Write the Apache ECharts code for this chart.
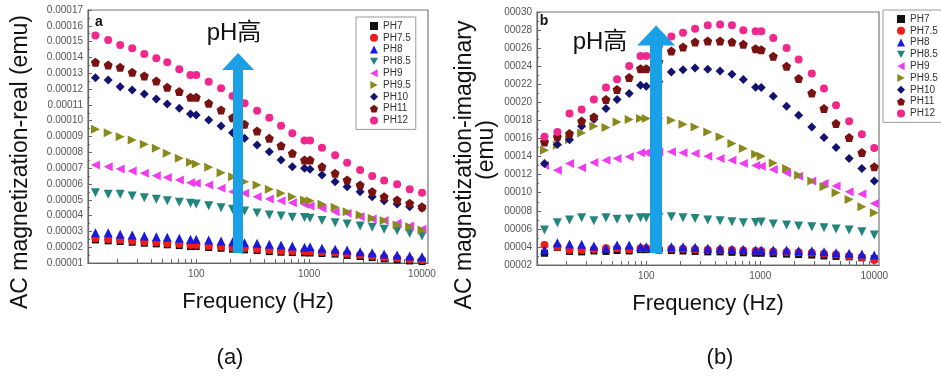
<!DOCTYPE html>
<html>
<head>
<meta charset="utf-8">
<script src="https://cdn.jsdelivr.net/npm/echarts@6/dist/echarts.min.js"></script>
<style>
html,body{margin:0;padding:0;background:#fff;}
#c{width:941px;height:377px;}
</style>
</head>
<body>
<div id="c"></div>
<script>
// Frequencies (Hz)
var freq = [12.8,16.6,21.2,27.1,34.7,44.3,55.4,70.8,89,100,129,166,210,268,346,444,564,710,910,1020,1300,1700,2170,2830,3620,4620,6020,7780,10000];
var names = ['PH7','PH7.5','PH8','PH8.5','PH9','PH9.5','PH10','PH11','PH12'];
var xLabelValues = [100,1000,10000];
var xTickValues = [20,30,40,50,60,70,80,90,100,200,300,400,500,600,700,800,900,1000,2000,3000,4000,5000,6000,7000,8000,9000,10000];

// (a) AC magnetization-real, units of 1e-5 emu
var realPH7   = [2.46,2.4,2.36,2.31,2.25,2.21,2.15,2.1,2.04,2.04,1.98,1.93,1.87,1.83,1.79,1.72,1.68,1.66,1.64,1.63,1.6,1.56,1.48,1.41,1.34,1.26,1.2,1.13,1.09];
var realPH75  = [2.56,2.5,2.45,2.41,2.35,2.31,2.25,2.2,2.14,2.14,2.08,2.03,1.97,1.93,1.89,1.82,1.78,1.76,1.74,1.73,1.7,1.66,1.58,1.51,1.44,1.36,1.3,1.23,1.19];
var realPH8   = [2.92,2.92,2.82,2.77,2.71,2.66,2.63,2.56,2.5,2.5,2.45,2.39,2.35,2.28,2.25,2.18,2.14,2.08,1.99,2.03,1.93,1.87,1.82,1.71,1.65,1.57,1.51,1.44,1.4];
var realPH85  = [5.45,5.35,5.35,5.24,5.13,5.03,4.94,4.84,4.78,4.73,4.62,4.5,4.4,4.29,4.16,4.04,3.97,3.89,3.87,3.83,3.68,3.55,3.47,3.34,3.26,3.13,3.04,2.88,2.71];
var realPH9   = [7.2,7.09,6.95,6.82,6.67,6.52,6.4,6.25,6.08,6.04,5.93,5.72,5.51,5.41,5.19,5.05,4.94,4.81,4.71,4.61,4.46,4.24,4.14,3.93,3.78,3.68,3.51,3.34,3.13];
var realPH95  = [9.46,9.24,8.99,8.78,8.51,8.25,7.94,7.62,7.37,7.26,7.05,6.71,6.46,6.14,5.93,5.66,5.41,5.19,4.98,4.94,4.71,4.52,4.24,4.04,3.83,3.68,3.4,3.3,3.09];
var realPH10  = [12.72,12.57,12.15,11.94,11.69,11.37,11.06,10.78,10.42,10.36,10.04,9.67,9.24,8.89,8.46,8.04,7.51,7.09,6.99,6.93,6.57,6.14,5.83,5.51,5.19,4.94,4.73,4.56,4.46];
var realPH11  = [13.69,13.52,13.38,13.06,12.83,12.51,12.11,11.84,11.48,11.48,11.1,10.68,10.19,9.77,9.35,8.89,8.42,7.94,7.51,7.51,7.09,6.67,6.25,5.93,5.51,5.19,4.98,4.78,4.56];
var realPH12  = [15.38,15.1,14.79,14.58,14.22,13.95,13.69,13.25,12.89,12.89,12.47,12.05,11.56,11.1,10.63,10.19,9.68,9.2,8.74,8.74,8.29,7.81,7.34,6.88,6.5,6.21,5.98,5.66,5.45];

// (b) AC magnetization-imaginary, units of 1e-5 emu
var imagPH7   = [3.3,3.95,3.5,3.45,3.55,3.5,3.6,3.55,3.7,3.7,3.65,3.6,3.55,3.5,3.45,3.45,3.4,3.35,3.3,3.3,3.25,3.2,3.15,3.1,3.0,2.95,2.9,2.8,2.7];
var imagPH75  = [4.21,4.02,3.66,3.66,3.73,3.85,3.85,3.73,3.85,3.85,3.8,3.8,3.8,3.75,3.7,3.7,3.65,3.6,3.55,3.55,3.5,3.45,3.4,3.35,3.25,3.15,3.0,2.85,2.55];
var imagPH8   = [3.66,4.46,4.32,4.29,4.1,3.85,4.21,4.21,4.02,4.02,4.02,4.02,4.02,3.96,3.85,3.85,3.73,3.73,3.66,3.66,3.66,3.66,3.58,3.58,3.47,3.36,3.29,3.22,3.1];
var imagPH85  = [5.87,6.67,6.97,7.23,6.9,7.23,7.05,7.08,7.23,7.23,7.25,7.34,7.23,7.16,6.97,6.9,6.79,6.67,6.7,6.75,6.53,6.42,6.31,6.23,6.12,5.98,5.87,5.68,5.31];
var imagPH9   = [13.05,12.5,13.24,12.75,13.35,13.6,13.79,13.97,14.41,14.41,14.5,14.52,14.41,14.34,14.04,13.79,13.6,13.24,13.0,12.94,12.57,12.2,11.83,11.31,11.03,10.73,10.1,9.85,8.82];
var imagPH95  = [14.71,15.26,15.9,16.62,17.36,17.22,17.83,18.1,18.21,18.21,18.2,18.02,17.58,17.28,16.73,16.18,15.45,14.9,14.27,14.04,13.3,12.69,11.94,11.31,10.65,9.99,9.26,8.44,7.78];
var imagPH10  = [13.24,15.34,15.85,17.36,18.13,19.31,20.31,20.97,21.89,21.78,22.3,23.36,23.62,23.8,23.66,23.47,23.1,22.52,21.68,21.64,20.67,19.57,18.57,17.28,16.11,15.01,13.79,12.69,11.31];
var imagPH11  = [15.62,16.18,16.55,17.94,18.39,20.31,21.41,22.74,23.73,23.73,24.5,25.68,26.12,26.67,26.78,26.78,26.67,26.42,25.94,25.83,25.09,23.99,22.63,21.04,19.31,17.66,16.11,14.45,12.86];
var imagPH12  = [16.18,16.73,18.76,19.2,20.31,21.64,22.55,24.02,25.13,25.13,26.2,27.3,27.71,28.15,28.52,28.63,28.52,27.97,27.86,27.86,27.12,26.01,24.73,23.18,21.52,19.68,17.91,16.48,14.96];

var realSets = [realPH7,realPH75,realPH8,realPH85,realPH9,realPH95,realPH10,realPH11,realPH12];
var imagSets = [imagPH7,imagPH75,imagPH8,imagPH85,imagPH9,imagPH95,imagPH10,imagPH11,imagPH12];

var pentagon = 'path://M50,0 L97.6,34.5 L79.4,90.5 L20.6,90.5 L2.4,34.5 Z';
var styles = [
  {symbol:'rect', size:7, rot:0, color:'#111111', icon:'rect'},
  {symbol:'circle', size:8, rot:0, color:'#EE1C1C', icon:'circle'},
  {symbol:'triangle', size:9, rot:0, color:'#1A1ADC', icon:'triangle'},
  {symbol:'triangle', size:9, rot:180, color:'#23857C', icon:'path://M0,0 L10,0 L5,9 Z'},
  {symbol:'triangle', size:9, rot:90, color:'#EE3CEE', icon:'path://M9,0 L9,10 L0,5 Z'},
  {symbol:'triangle', size:9, rot:-90, color:'#8A8A1C', icon:'path://M0,0 L9,5 L0,10 Z'},
  {symbol:'diamond', size:9, rot:0, color:'#121270', icon:'diamond'},
  {symbol:pentagon, size:9, rot:0, color:'#7A1212', icon:pentagon},
  {symbol:'circle', size:8, rot:0, color:'#F0288C', icon:'circle'}
];

var FONT = '"Liberation Sans", Arial, "Noto Sans CJK SC", sans-serif';
var ARROW = '#19A0E6';

function xAxis(idx, max) {
  return {
    type:'log', logBase:10, gridIndex:idx, min:11, max:max,
    name:'Frequency (Hz)', nameLocation:'middle', nameGap:28,
    nameTextStyle:{fontSize:22, color:'#111', fontFamily:FONT},
    axisLine:{show:true, lineStyle:{color:'#666', width:1.2}},
    axisTick:{show:true, inside:true, length:4, customValues:xTickValues, lineStyle:{color:'#666'}},
    axisLabel:{customValues:xLabelValues, fontSize:10, color:'#555', margin:6, fontFamily:FONT,
      formatter:function(v){return String(Math.round(v));}},
    splitLine:{show:false}, minorTick:{show:false}, minorSplitLine:{show:false}
  };
}
function yAxis(idx, min, max, itv, fmt) {
  return {
    type:'value', gridIndex:idx, min:min, max:max, interval:itv,
    axisLine:{show:true, lineStyle:{color:'#666', width:1.2}},
    axisTick:{show:true, inside:true, length:4, lineStyle:{color:'#666'}},
    minorTick:{show:true, splitNumber:2, length:2, lineStyle:{color:'#666'}},
    axisLabel:{fontSize:10, color:'#555', margin:5, fontFamily:FONT, formatter:fmt},
    splitLine:{show:false}
  };
}

var series = [];
names.forEach(function(n, i){
  var st = styles[i];
  [realSets[i], imagSets[i]].forEach(function(vals, g){
    series.push({
      type:'scatter', name:n, xAxisIndex:g, yAxisIndex:g,
      symbol:st.symbol, symbolSize:st.size, symbolRotate:st.rot,
      itemStyle:{color:st.color, opacity:1},
      data: freq.map(function(f, k){ return [f, vals[k]]; }),
      silent:true, animation:false
    });
  });
});

function arrowSeries(g, x, y0, y1, w, head) {
  return {
    type:'line', xAxisIndex:g, yAxisIndex:g, data:[], z:10, silent:true, animation:false,
    markLine:{
      silent:true, animation:false, symbol:['none','triangle'],
      label:{show:false},
      lineStyle:{color:ARROW, width:w, type:'solid', opacity:1},
      emphasis:{disabled:true},
      data:[[{coord:[x, y0], symbol:'none'}, {coord:[x, y1], symbol:'triangle', symbolSize:head, itemStyle:{color:ARROW}}]]
    }
  };
}
series.push(arrowSeries(0, 235, 1.63, 13.74, 10, [32,17]));
series.push(arrowSeries(1, 122, 3.33, 27.4, 12, [38,20]));

var legendData = names.map(function(n, i){ return {name:n, icon:styles[i].icon}; });
var legendBase = {
  data:legendData, orient:'vertical', padding:[4,5,4,14], itemGap:1.8, itemWidth:8, itemHeight:8,
  textStyle:{fontSize:10, color:'#333', fontFamily:FONT},
  borderColor:'#999', borderWidth:1, backgroundColor:'#fff', selectedMode:false
};

var option = {
  backgroundColor:'#fff',
  animation:false,
  textStyle:{fontFamily:FONT},
  grid:[
    {left:88, top:10, width:340, height:253, show:true, borderColor:'#777', borderWidth:1.2, backgroundColor:'#fff'},
    {left:537, top:12, width:342, height:253, show:true, borderColor:'#777', borderWidth:1.2, backgroundColor:'#fff'}
  ],
  xAxis:[xAxis(0, 11300), xAxis(1, 11000)],
  yAxis:[
    yAxis(0, 1, 17, 1, function(v){ return (v/1e5).toFixed(5); }),
    yAxis(1, 2, 30, 2, function(v){ return (v/1e5).toFixed(5).slice(2); })
  ],
  legend:[
    Object.assign({}, legendBase, {left:356, top:17}),
    Object.assign({}, legendBase, {left:883, top:10})
  ],
  series:series,
  graphic:[
    {type:'text', x:21, y:162, rotation:Math.PI/2, silent:true,
     style:{text:'AC magnetization-real (emu)', font:'23px '+FONT, fill:'#111', textAlign:'center', textVerticalAlign:'middle'}},
    {type:'text', x:465, y:165, rotation:Math.PI/2, silent:true,
     style:{text:'AC magnetization-imaginary', font:'23px '+FONT, fill:'#111', textAlign:'center', textVerticalAlign:'middle'}},
    {type:'text', x:487, y:150, rotation:Math.PI/2, silent:true,
     style:{text:'(emu)', font:'23px '+FONT, fill:'#111', textAlign:'center', textVerticalAlign:'middle'}},
    {type:'text', x:99, y:22, silent:true,
     style:{text:'a', font:'bold 14px '+FONT, fill:'#111', textAlign:'center', textVerticalAlign:'middle'}},
    {type:'text', x:544, y:21, silent:true,
     style:{text:'b', font:'bold 14px '+FONT, fill:'#111', textAlign:'center', textVerticalAlign:'middle'}},
    {type:'text', x:234, y:33, silent:true, z:20,
     style:{text:'pH高', font:'24px '+FONT, fill:'#111', textAlign:'center', textVerticalAlign:'middle'}},
    {type:'text', x:600, y:42, silent:true, z:20,
     style:{text:'pH高', font:'24px '+FONT, fill:'#111', textAlign:'center', textVerticalAlign:'middle'}},
    {type:'text', x:230, y:358, silent:true,
     style:{text:'(a)', font:'22px '+FONT, fill:'#111', textAlign:'center', textVerticalAlign:'middle'}},
    {type:'text', x:720, y:358, silent:true,
     style:{text:'(b)', font:'22px '+FONT, fill:'#111', textAlign:'center', textVerticalAlign:'middle'}}
  ]
};

var chart = echarts.init(document.getElementById('c'), null, {renderer:'canvas'});
chart.setOption(option);
</script>
</body>
</html>
